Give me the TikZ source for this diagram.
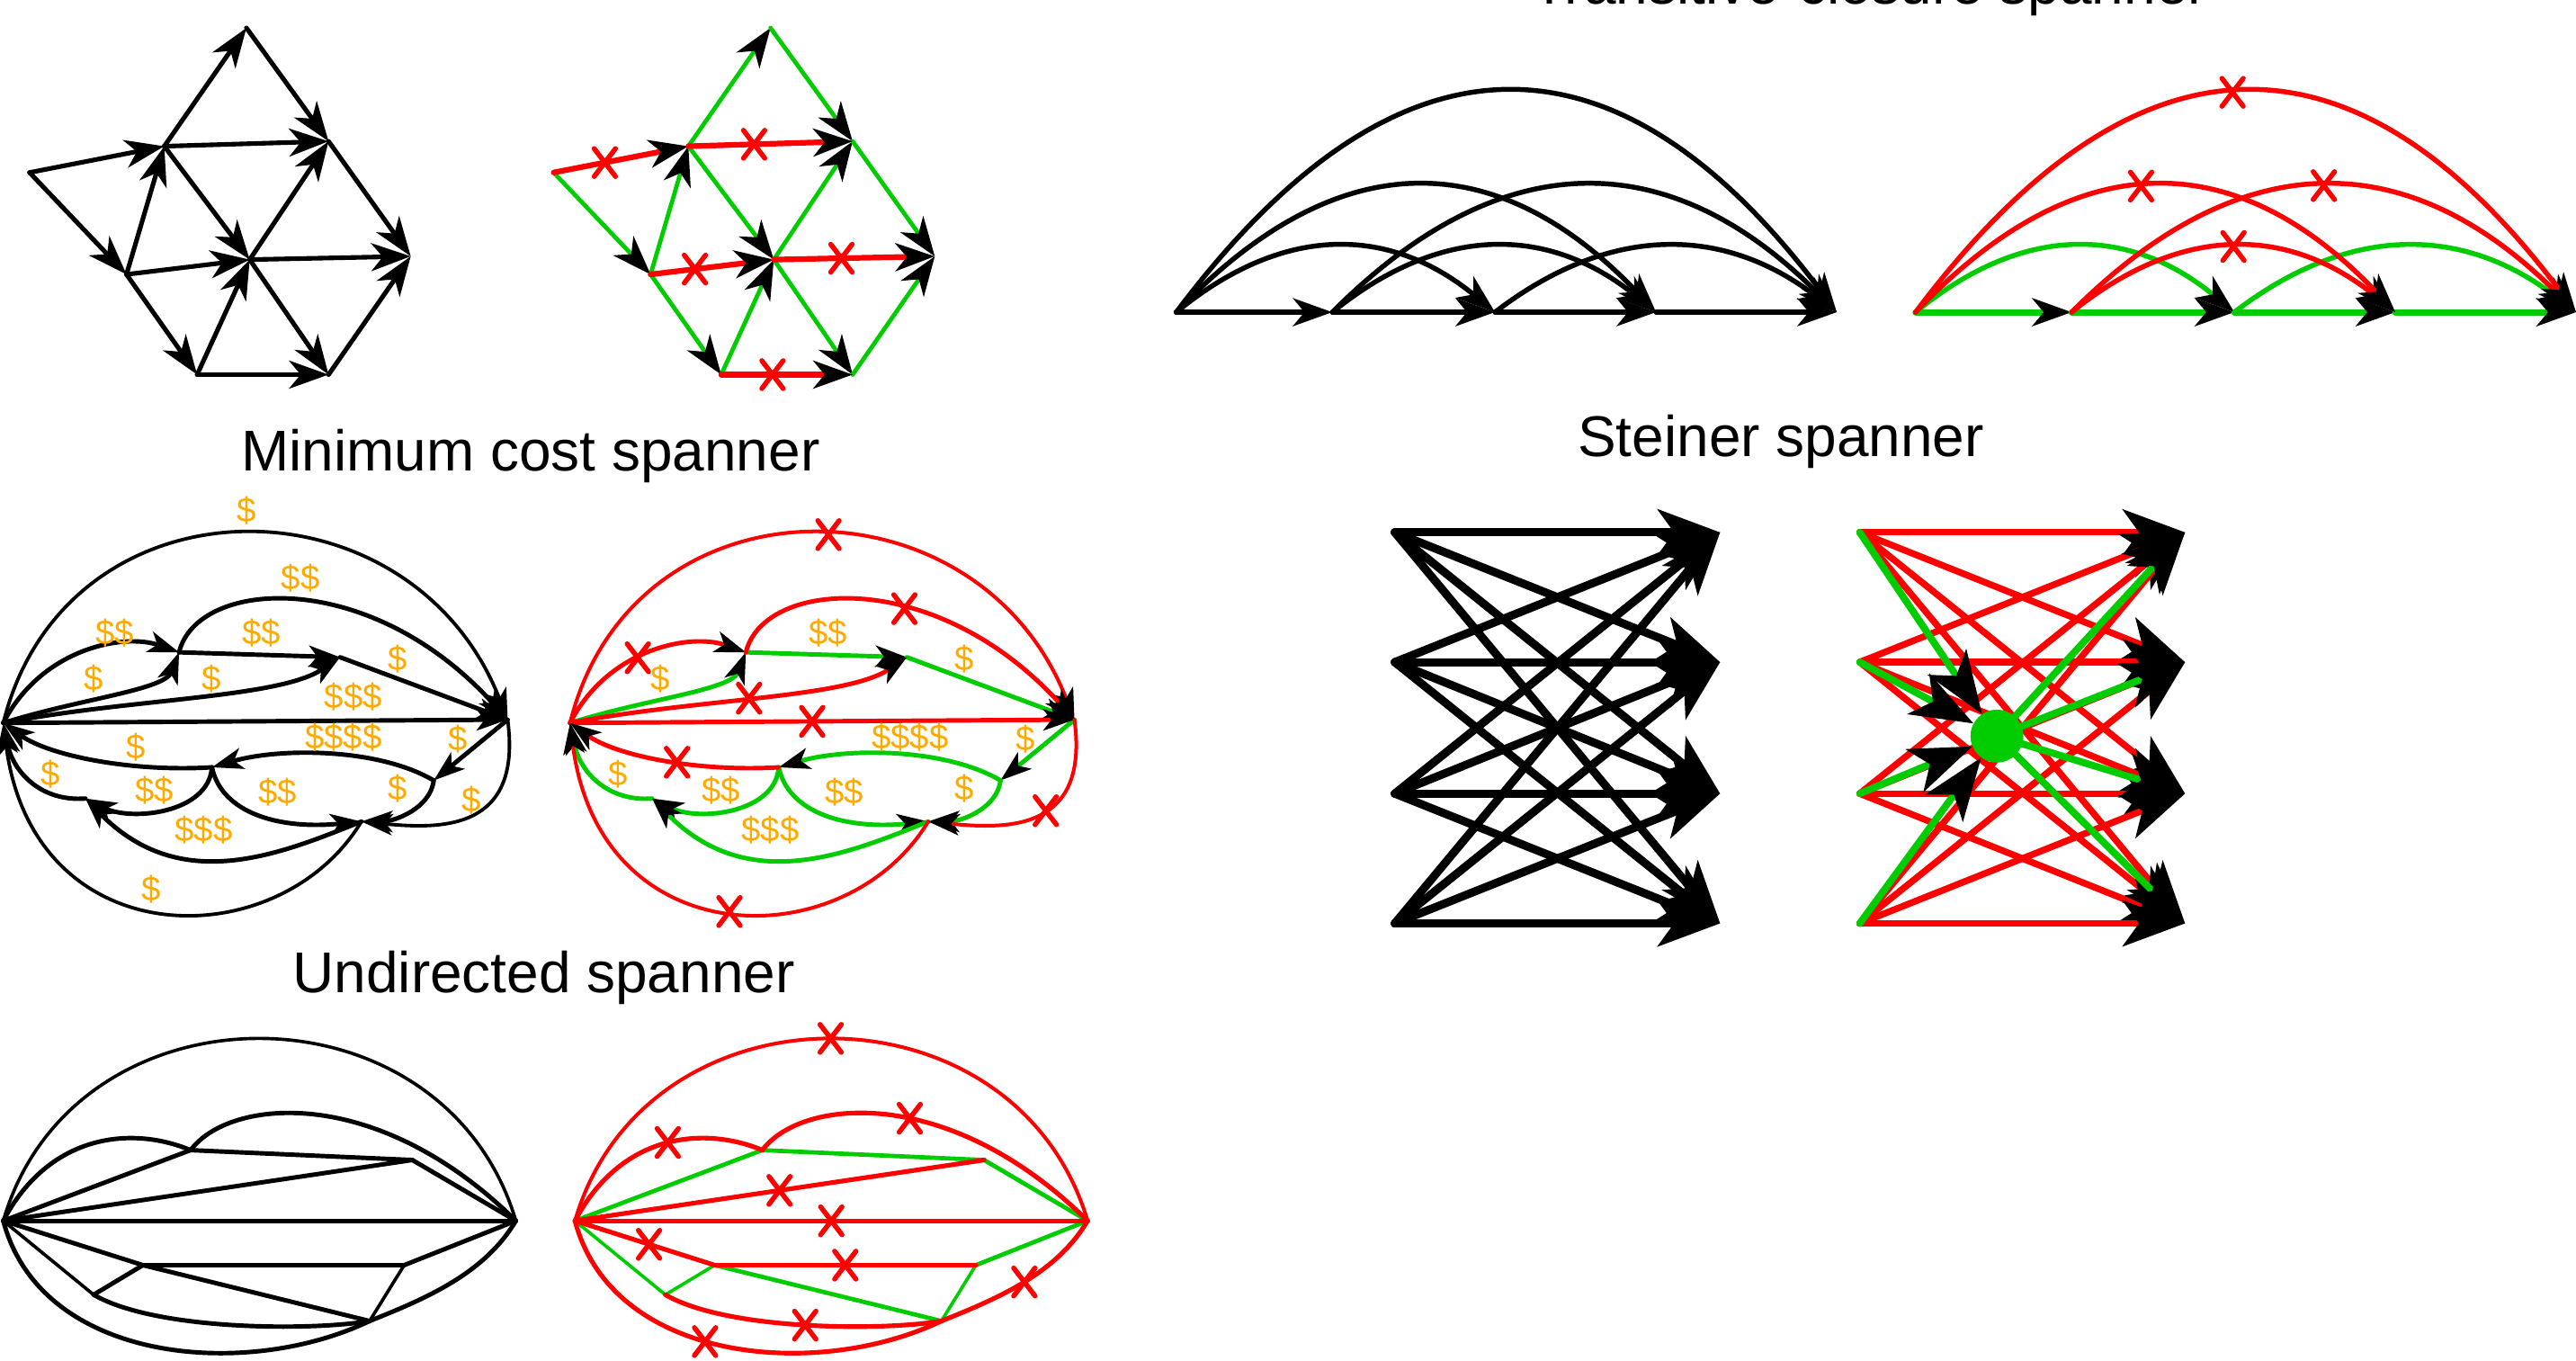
\documentclass[tikz,border=0pt]{standalone}
\usepackage{fontspec}
\setmainfont{Liberation Sans}
\usetikzlibrary{arrows.meta,shapes.misc}
\definecolor{rd}{RGB}{255,0,0}
\definecolor{gn}{RGB}{0,204,0}
\definecolor{og}{RGB}{255,170,0}
\tikzset{
  ttl/.style={font=\fontsize{35}{40}\selectfont, anchor=base, inner sep=0pt},
  cost/.style={font=\fontsize{21}{24}\selectfont, text=og, inner sep=0pt},
  xm/.style={cross out, draw=rd, line width=3pt, minimum width=13pt, minimum height=17pt, inner sep=0pt, outer sep=0pt},
  tipA/.style={-{Stealth[length=24pt,width=17pt,inset=7pt,color=black]}},
  tipB/.style={-{Stealth[length=19pt,width=13pt,inset=5pt,color=black]}},
  tipC/.style={-{Stealth[length=38pt,width=28pt,inset=10pt,color=black]}},
  ln/.style={line cap=round, line join=round},
  k1/.style={ln, tipA, draw=black, line width=2.8pt},
  g1/.style={ln, tipA, draw=gn, line width=2.6pt},
  r1/.style={ln, tipA, draw=rd, line width=3.4pt},
  k3/.style={ln, tipA, draw=black, line width=3pt},
  g3/.style={ln, tipA, draw=gn, line width=3pt},
  gb3/.style={ln, tipA, draw=gn, line width=3.8pt},
  r3/.style={ln, tipA, draw=rd, line width=3pt},
  k5/.style={ln, tipB, draw=black, line width=2.7pt},
  k5t/.style={ln, tipB, draw=black, line width=2.1pt},
  g5/.style={ln, tipB, draw=gn, line width=2.7pt},
  r5/.style={ln, tipB, draw=rd, line width=2.7pt},
  r5t/.style={ln, tipB, draw=rd, line width=2.2pt},
  k7/.style={ln, tipC, draw=black, line width=5pt},
  r7/.style={ln, tipC, draw=rd, line width=4pt},
  g7/.style={ln, tipC, draw=gn, line width=4.3pt},
  k9/.style={ln, draw=black, line width=2.7pt},
  k9t/.style={ln, draw=black, line width=2pt},
  g9/.style={ln, draw=gn, line width=2.6pt},
  g9t/.style={ln, draw=gn, line width=2pt},
  r9/.style={ln, draw=rd, line width=2.8pt},
  r9t/.style={ln, draw=rd, line width=2.2pt},
}
\begin{document}
\begin{tikzpicture}[x=1pt,y=-1pt]
\useasboundingbox (0,0) rectangle (1568,828);

% ---------- titles ----------
\node[ttl] (t1) at (1138,2.2) {Transitive-closure spanner};
\node[ttl] (t2) at (323,286.5) {Minimum cost spanner};
\node[ttl] (t3) at (1084,278) {Steiner spanner};
\node[ttl] (t4) at (331,604) {Undirected spanner};

% ---------- panel 1 : directed ----------
\coordinate (A1) at (18,105);  \coordinate (B1) at (100,89);
\coordinate (C1) at (150,17);  \coordinate (D1) at (200,86);
\coordinate (E1) at (77,167);  \coordinate (F1) at (152,158);
\coordinate (G1) at (250,156); \coordinate (H1) at (120,228);
\coordinate (I1) at (200,228);
\draw[k1] (A1) -- (B1);
\draw[k1] (A1) -- (E1);
\draw[k1] (B1) -- (C1);
\draw[k1] (C1) -- (D1);
\draw[k1] (B1) -- (D1);
\draw[k1] (E1) -- (B1);
\draw[k1] (B1) -- (F1);
\draw[k1] (F1) -- (D1);
\draw[k1] (D1) -- (G1);
\draw[k1] (E1) -- (F1);
\draw[k1] (F1) -- (G1);
\draw[k1] (E1) -- (H1);
\draw[k1] (H1) -- (F1);
\draw[k1] (F1) -- (I1);
\draw[k1] (H1) -- (I1);
\draw[k1] (I1) -- (G1);

% ---------- panel 2 : directed, coloured ----------
\begin{scope}[xshift=319pt]
\coordinate (A2) at (18,105);  \coordinate (B2) at (100,89);
\coordinate (C2) at (150,17);  \coordinate (D2) at (200,86);
\coordinate (E2) at (77,167);  \coordinate (F2) at (152,158);
\coordinate (G2) at (250,156); \coordinate (H2) at (120,228);
\coordinate (I2) at (200,228);
\draw[g1] (A2) -- (E2);
\draw[g1] (B2) -- (C2);
\draw[g1] (C2) -- (D2);
\draw[g1] (E2) -- (B2);
\draw[g1] (B2) -- (F2);
\draw[g1] (F2) -- (D2);
\draw[g1] (D2) -- (G2);
\draw[g1] (E2) -- (H2);
\draw[g1] (H2) -- (F2);
\draw[g1] (F2) -- (I2);
\draw[g1] (I2) -- (G2);
\draw[r1] (A2) -- (B2) node[xm,pos=.38] (x21) {};
\draw[r1] (B2) -- (D2) node[xm,pos=.4] (x22) {};
\draw[r1] (E2) -- (F2) node[xm,pos=.36] (x23) {};
\draw[r1] (F2) -- (G2) node[xm,pos=.42] (x24) {};
\draw[r1] (H2) -- (I2) node[xm,pos=.39] (x25) {};
\end{scope}

% ---------- panel 3 : transitive closure ----------
\coordinate (ta0) at (716,190); \coordinate (ta1) at (811,190);
\coordinate (ta2) at (910,190); \coordinate (ta3) at (1008,190);
\coordinate (ta4) at (1118,190);
\draw[k3] (ta0) -- (ta1);
\draw[k3] (ta1) -- (ta2);
\draw[k3] (ta2) -- (ta3);
\draw[k3] (ta3) -- (ta4);
\draw[k3] (ta0) .. controls (780.7,136.7) and (845.3,136.7) .. (ta2);
\draw[k3] (ta1) .. controls (876.7,136.7) and (942.3,136.7) .. (ta3);
\draw[k3] (ta2) .. controls (979.3,136.7) and (1048.7,136.7) .. (ta4);
\draw[k3] (ta0) .. controls (813.3,87.3) and (910.7,87.3) .. (ta3);
\draw[k3] (ta1) .. controls (913.3,87.3) and (1015.7,87.3) .. (ta4);
\draw[k3] (ta0) .. controls (850,11.3) and (984,11.3) .. (ta4);

% ---------- panel 4 : transitive closure, coloured ----------
\begin{scope}[xshift=450pt]
\coordinate (tb0) at (716,190); \coordinate (tb1) at (811,190);
\coordinate (tb2) at (910,190); \coordinate (tb3) at (1008,190);
\coordinate (tb4) at (1118,190);
\draw[gb3] (tb0) -- (tb1);
\draw[gb3] (tb1) -- (tb2);
\draw[gb3] (tb2) -- (tb3);
\draw[gb3] (tb3) -- (tb4);
\draw[g3] (tb0) .. controls (780.7,136.7) and (845.3,136.7) .. (tb2);
\draw[g3] (tb2) .. controls (979.3,136.7) and (1048.7,136.7) .. (tb4);
\draw[r3] (tb1) .. controls (876.7,136.7) and (942.3,136.7) .. (tb3) node[xm,pos=.5] (x41) {};
\draw[r3] (tb0) .. controls (813.3,87.3) and (910.7,87.3) .. (tb3) node[xm,pos=.47] (x42) {};
\draw[r3] (tb1) .. controls (913.3,87.3) and (1015.7,87.3) .. (tb4) node[xm,pos=.5] (x43) {};
\draw[r3] (tb0) .. controls (850,11.3) and (984,11.3) .. (tb4) node[xm,pos=.48] (x44) {};
\end{scope}

% ---------- panel 5 : minimum cost ----------
\coordinate (aL) at (2,440);   \coordinate (aR) at (309,438);
\coordinate (aP1) at (109,397); \coordinate (aP2) at (207,400);
\coordinate (aQ1) at (129,467); \coordinate (aQ2) at (264,475);
\coordinate (aQ3) at (220,500); \coordinate (aQ4) at (52,486);
\draw[k5t] (aL) .. controls (40,287) and (250,287) .. (aR);
\draw[k5] (aL) .. controls (25,395) and (75,385) .. (aP1);
\draw[k5] (aL) .. controls (50,425) and (100,420) .. (aP1);
\draw[k5] (aP1) .. controls (120,352) and (225,345) .. (aR);
\draw[k5] (aP1) -- (aP2);
\draw[k5] (aL) .. controls (80,425) and (170,425) .. (aP2);
\draw[k5] (aP2) -- (aR);
\draw[k5] (aL) -- (aR);
\draw[k5] (aR) -- (aQ2);
\draw[k5] (aQ2) .. controls (230,455) and (170,455) .. (aQ1);
\draw[k5] (aQ1) .. controls (80,470) and (30,460) .. (aL);
\draw[k5] (aQ1) .. controls (127,495) and (80,500) .. (aQ4);
\draw[k5] (aQ1) .. controls (135,495) and (170,505) .. (aQ3);
\draw[k5] (aQ2) .. controls (262,492) and (240,500) .. (aQ3);
\draw[k5] (aQ4) .. controls (25,488) and (8,470) .. (aL);
\draw[k5t] (aQ3) .. controls (170,583) and (20,583) .. (aL);
\draw[k5t] (aR) .. controls (318,505) and (270,505) .. (aQ3);
\draw[k5] (aQ3) .. controls (170,520) and (110,545) .. (aQ4);
\node[cost] (ca1) at (150,311) {\$};
\node[cost] (ca2) at (70,385) {\$\$};
\node[cost] (ca3) at (183,352) {\$\$};
\node[cost] (ca4) at (159,385) {\$\$};
\node[cost] (ca5) at (57,413) {\$};
\node[cost] (ca6) at (129,413) {\$};
\node[cost] (ca7) at (242,401) {\$};
\node[cost] (ca8) at (215,424) {\$\$\$};
\node[cost] (ca9) at (209,449) {\$\$\$\$};
\node[cost] (ca10) at (279,450) {\$};
\node[cost] (ca11) at (83,455) {\$};
\node[cost] (ca12) at (31,471) {\$};
\node[cost] (ca13) at (94,481) {\$\$};
\node[cost] (ca14) at (169,482) {\$\$};
\node[cost] (ca15) at (242,480) {\$};
\node[cost] (ca16) at (287,487) {\$};
\node[cost] (ca17) at (124,505) {\$\$\$};
\node[cost] (ca18) at (92,541) {\$};

% ---------- panel 6 : minimum cost, coloured ----------
\begin{scope}[xshift=345pt]
\coordinate (bL) at (2,440);   \coordinate (bR) at (309,438);
\coordinate (bP1) at (109,397); \coordinate (bP2) at (207,400);
\coordinate (bQ1) at (129,467); \coordinate (bQ2) at (264,475);
\coordinate (bQ3) at (220,500); \coordinate (bQ4) at (52,486);
\draw[g5] (bL) .. controls (50,425) and (100,420) .. (bP1);
\draw[g5] (bP1) -- (bP2);
\draw[g5] (bP2) -- (bR);
\draw[g5] (bR) -- (bQ2);
\draw[g5] (bQ2) .. controls (230,455) and (170,455) .. (bQ1);
\draw[g5] (bQ1) .. controls (127,495) and (80,500) .. (bQ4);
\draw[g5] (bQ1) .. controls (135,495) and (170,505) .. (bQ3);
\draw[g5] (bQ2) .. controls (262,492) and (240,500) .. (bQ3);
\draw[g5] (bQ4) .. controls (25,488) and (8,470) .. (bL);
\draw[g5] (bQ3) .. controls (170,520) and (110,545) .. (bQ4);
\draw[r5t] (bL) .. controls (40,287) and (250,287) .. (bR) node[xm,pos=.53] (x61) {};
\draw[r5] (bL) .. controls (25,395) and (75,385) .. (bP1) node[xm,pos=.43] (x62) {};
\draw[r5] (bP1) .. controls (120,352) and (225,345) .. (bR) node[xm,pos=.6] (x63) {};
\draw[r5] (bL) .. controls (80,425) and (170,425) .. (bP2) node[xm,pos=.46] (x64) {};
\draw[r5] (bL) -- (bR) node[xm,pos=.48] (x65) {};
\draw[r5] (bQ1) .. controls (80,470) and (30,460) .. (bL) node[xm,pos=.43] (x66) {};
\draw[r5t] (bQ3) .. controls (170,583) and (20,583) .. (bL) node[xm,pos=.5] (x67) {};
\draw[r5t] (bR) .. controls (318,505) and (270,505) .. (bQ3) node[xm,pos=.45] (x68) {};
\node[cost] (cb4) at (159,385) {\$\$};
\node[cost] (cb5) at (57,413) {\$};
\node[cost] (cb7) at (242,401) {\$};
\node[cost] (cb9) at (209,449) {\$\$\$\$};
\node[cost] (cb10) at (279,450) {\$};
\node[cost] (cb12) at (31,471) {\$};
\node[cost] (cb13) at (94,481) {\$\$};
\node[cost] (cb14) at (169,482) {\$\$};
\node[cost] (cb15) at (242,480) {\$};
\node[cost] (cb17) at (124,505) {\$\$\$};
\end{scope}

% ---------- panel 7 : Steiner ----------
\foreach \i/\y in {1/324,2/403,3/483,4/562} {
  \coordinate (sL\i) at (849,\y);
  \coordinate (sR\i) at (1047,\y);
}
\foreach \i in {1,...,4} {
  \foreach \j in {1,...,4} {
    \draw[k7] (sL\i) -- (sR\j);
  }
}

% ---------- panel 8 : Steiner, coloured ----------
\foreach \i/\y in {1/324,2/403,3/483,4/562} {
  \coordinate (tL\i) at (1132,\y);
  \coordinate (tR\i) at (1330,\y);
}
\foreach \i in {1,...,4} {
  \foreach \j in {1,...,4} {
    \draw[r7] (tL\i) -- (tR\j);
  }
}
\node[circle, fill=gn, minimum size=32pt, inner sep=0pt] (st) at (1215.5,448) {};
\foreach \i in {1,...,4} {
  \draw[g7] (tL\i) -- (st);
  \draw[g7] (st) -- (tR\i);
}
\fill[gn] (st.center) circle (16pt);

% ---------- panel 9 : undirected ----------
\coordinate (uL) at (2,743);   \coordinate (uR) at (314,743);
\coordinate (uU1) at (116,700); \coordinate (uU2) at (251,706);
\coordinate (uD1) at (87,770);  \coordinate (uD2) at (246,770);
\coordinate (uD3) at (57,788);  \coordinate (uD4) at (225,804);
\draw[k9t] (uL) .. controls (45,595) and (270,595) .. (uR);
\draw[k9] (uL) .. controls (30,690) and (80,685) .. (uU1);
\draw[k9] (uU1) .. controls (140,668) and (230,660) .. (uR);
\draw[k9] (uU1) -- (uU2);
\draw[k9] (uL) -- (uU1);
\draw[k9] (uL) -- (uU2);
\draw[k9] (uU2) -- (uR);
\draw[k9] (uL) -- (uR);
\draw[k9] (uL) -- (uD1);
\draw[k9] (uD1) -- (uD2);
\draw[k9] (uD2) -- (uR);
\draw[k9] (uD1) -- (uD3);
\draw[k9] (uD1) -- (uD4);
\draw[k9t] (uD2) -- (uD4);
\draw[k9t] (uL) -- (uD3);
\draw[k9] (uD3) .. controls (95,810) and (190,810) .. (uD4);
\draw[k9] (uL) .. controls (25,830) and (150,840) .. (uD4);
\draw[k9] (uD4) .. controls (260,790) and (295,775) .. (uR);

% ---------- panel 10 : undirected, coloured ----------
\begin{scope}[xshift=348pt]
\coordinate (vL) at (2,743);   \coordinate (vR) at (314,743);
\coordinate (vU1) at (116,700); \coordinate (vU2) at (251,706);
\coordinate (vD1) at (87,770);  \coordinate (vD2) at (246,770);
\coordinate (vD3) at (57,788);  \coordinate (vD4) at (225,804);
\draw[g9] (vU1) -- (vU2);
\draw[g9] (vL) -- (vU1);
\draw[g9] (vU2) -- (vR);
\draw[g9] (vD2) -- (vR);
\draw[g9t] (vD1) -- (vD3);
\draw[g9] (vD1) -- (vD4);
\draw[g9t] (vD2) -- (vD4);
\draw[g9t] (vL) -- (vD3);
\draw[r9t] (vL) .. controls (45,595) and (270,595) .. (vR) node[xm,pos=.5] (x101) {};
\draw[r9] (vL) .. controls (30,690) and (80,685) .. (vU1) node[xm,pos=.52] (x102) {};
\draw[r9] (vU1) .. controls (140,668) and (230,660) .. (vR) node[xm,pos=.56] (x103) {};
\draw[r9] (vL) -- (vU2) node[xm,pos=.5] (x104) {};
\draw[r9] (vL) -- (vR) node[xm,pos=.5] (x105) {};
\draw[r9] (vL) -- (vD1) node[xm,pos=.53] (x106) {};
\draw[r9] (vD1) -- (vD2) node[xm,pos=.5] (x107) {};
\draw[r9] (vD3) .. controls (95,810) and (190,810) .. (vD4) node[xm,pos=.5] (x108) {};
\draw[r9] (vL) .. controls (25,830) and (150,840) .. (vD4) node[xm,pos=.45] (x109) {};
\draw[r9] (vD4) .. controls (260,790) and (295,775) .. (vR) node[xm,pos=.5] (x110) {};
\end{scope}
\end{tikzpicture}
\end{document}
